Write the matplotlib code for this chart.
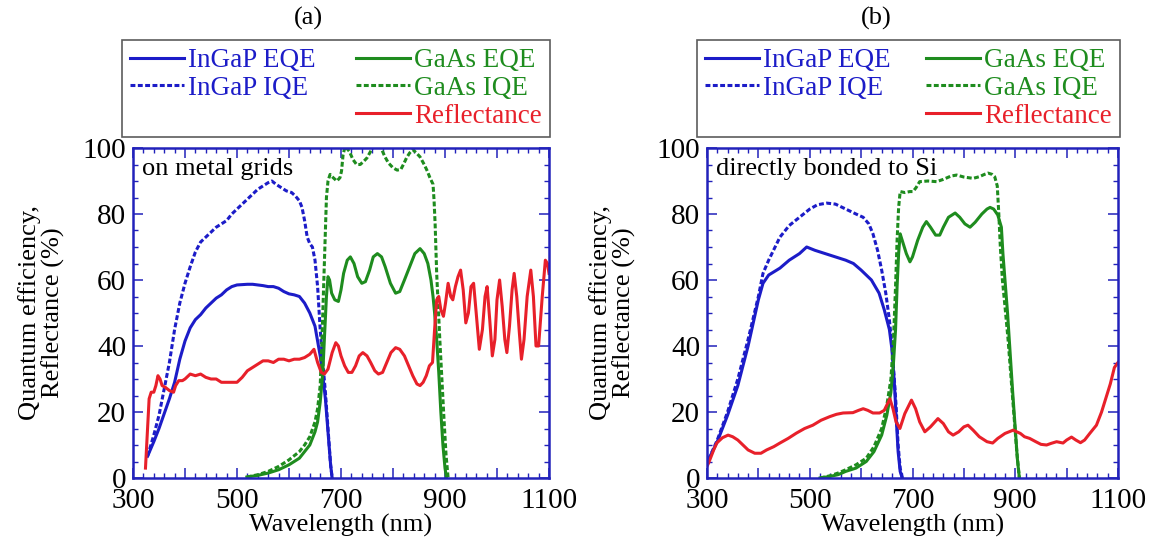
import matplotlib
matplotlib.use("Agg")
import matplotlib.pyplot as plt
from matplotlib.lines import Line2D
from matplotlib.ticker import MultipleLocator, FuncFormatter

plt.rcParams['font.family'] = ['Liberation Serif', 'DejaVu Serif']

# ---------------- (a) on metal grids ----------------
ingap_eqe_a_wl = [328, 340, 350, 360, 370, 380, 390, 400, 410, 420, 430, 440, 450, 460, 470,
                  480, 490, 500, 510, 520, 530, 540, 550, 560, 570, 580, 590, 600, 610, 620,
                  630, 640, 650, 660, 665, 670, 675, 680, 683]
ingap_eqe_a = [6.6, 11, 15, 19.5, 24, 29, 36, 41.5, 45.5, 48, 49.5, 51.5, 53, 54.5, 55.5,
               57, 58, 58.5, 58.6, 58.7, 58.7, 58.5, 58.3, 58, 58, 57.5, 56.5, 55.8, 55.5, 55,
               53, 50, 46, 37, 31, 24, 14, 4, 0]

ingap_iqe_a_wl = [328, 340, 350, 360, 370, 380, 390, 400, 410, 420, 425, 430, 440, 450, 460,
                  470, 480, 490, 500, 510, 520, 530, 540, 550, 560, 567, 575, 585, 595, 605,
                  612, 620, 625, 630, 635, 640, 645, 650, 655, 660, 665, 670, 675, 680, 683]
ingap_iqe_a = [6.6, 13, 19, 27, 35, 45, 53, 59, 64, 68.5, 70, 71.5, 73, 74.5, 76,
               77, 78, 80, 81.5, 83, 84.5, 86, 87.5, 88.5, 89.5, 90, 89, 88, 87, 86.5,
               85.5, 84, 82, 78, 73, 71, 70, 66, 58, 45, 35, 26, 15, 4, 0]

gaas_eqe_a_wl = [519, 540, 560, 580, 600, 620, 630, 640, 650, 655, 660, 665, 668, 672, 675,
                 678, 682, 688, 695, 700, 705, 712, 718, 725, 732, 740, 747, 755, 762, 770,
                 778, 785, 795, 805, 813, 822, 832, 842, 852, 860, 867, 873, 877, 880, 884,
                 888, 892, 896, 900, 903]
gaas_eqe_a = [0.3, 0.8, 1.5, 2.5, 4, 6, 8, 10, 14, 17, 23, 32, 42, 55, 61,
              60, 56, 54, 53.5, 57, 62, 66, 67, 65, 61, 59, 59.5, 63, 67, 68,
              67, 64, 59, 56, 56.5, 60, 64, 68, 69.5, 68, 65, 60, 55, 50, 42,
              32, 20, 10, 3, 0]

gaas_iqe_a_wl = [519, 540, 560, 580, 600, 620, 630, 640, 650, 655, 660, 663, 666, 669, 672,
                 675, 679, 685, 692, 698, 701, 704, 708, 716, 723, 730, 737, 744, 750, 757,
                 763, 770, 777, 784, 791, 800, 808, 815, 820, 826, 832, 838, 845, 852, 860,
                 866, 871, 877, 879, 881, 884, 887, 890, 894, 898, 902, 906]
gaas_iqe_a = [0.3, 1, 2, 3.5, 5.5, 8, 10, 12.5, 17, 21, 28, 40, 55, 70, 85,
              90, 92, 91, 90, 91, 93, 98, 100.5, 99, 96.5, 95, 95, 96, 97, 99,
              100.5, 101, 100, 97.5, 95.5, 94, 93.3, 93.5, 95, 97, 98.5, 99.5, 98.5, 97.3, 95,
              93, 91, 89, 84, 77, 62, 52, 42, 30, 18, 7, 0]

refl_a_wl = [324, 328, 331, 335, 340, 344, 348, 352, 356, 362, 370, 378, 382, 388, 395,
             400, 410, 420, 430, 440, 450, 460, 470, 480, 490, 500, 510, 520, 530, 540,
             550, 560, 570, 580, 590, 600, 610, 620, 630, 640, 648, 655, 662, 668, 675,
             683, 690, 695, 700, 707, 714, 721, 728, 735, 742, 750, 757, 765, 772, 780,
             788, 796, 805, 813, 822, 830, 838, 846, 852, 858, 864, 870, 876, 880, 884,
             888, 892, 897, 901, 906, 911, 915, 920, 925, 930, 935, 940, 945, 950, 955,
             960, 966, 972, 977, 981, 986, 991, 996, 1000, 1005, 1010, 1015, 1019, 1024, 1029,
             1033, 1038, 1043, 1047, 1052, 1058, 1065, 1070, 1075, 1080, 1087, 1093, 1097, 1100]
refl_a = [3, 15, 24, 26, 26, 28, 31, 30, 28, 27.5, 26.5, 26, 28, 29.5, 29.5,
          30, 31.5, 31, 31.5, 30.5, 30, 30, 29, 29, 29, 29, 30.5, 32.5, 33.5, 34.5,
          35.5, 35.5, 35, 36, 36, 35.5, 36, 36, 36.5, 37.5, 39, 35, 32, 31.5, 33,
          38, 41, 40, 37, 34, 32, 32, 34, 37, 38, 37, 35, 32.5, 31.5, 32,
          35, 38, 39.5, 39, 37, 34, 31, 28.5, 28, 29, 31, 34, 35, 45, 54,
          55, 51, 49, 53, 59, 55, 54, 58, 61, 63, 57, 47, 50, 58, 59,
          50, 39, 45, 55, 58, 48, 37, 42, 54, 60, 52, 42, 38, 46, 57,
          62, 55, 44, 36, 42, 55, 63, 55, 40, 40, 55, 66, 65, 62]

# ---------------- (b) directly bonded to Si ----------------
ingap_eqe_b_wl = [303, 320, 340, 360, 380, 400, 409, 420, 442, 460, 480, 494, 510, 530, 550,
                  570, 585, 600, 620, 635, 645, 655, 660, 665, 668, 672, 676, 680]
ingap_eqe_b = [5.6, 11, 19, 28, 40, 54, 59, 61.5, 63.6, 66, 68, 70, 69, 68, 67,
               66, 65, 63, 60, 56, 51, 45, 39, 28, 19, 8, 2, 0]

ingap_iqe_b_wl = [303, 320, 340, 360, 380, 400, 409, 420, 442, 460, 480, 500, 515, 533, 550,
                  570, 590, 604, 615, 623, 632, 640, 648, 655, 660, 665, 668, 672, 676, 680]
ingap_iqe_b = [5.6, 11.5, 20, 30, 42, 55, 62, 66, 73, 76.5, 79, 81.5, 82.8, 83.3, 83,
               81.5, 80, 79, 77, 74, 69, 63, 56, 48, 40, 29, 22, 10, 3, 0]

gaas_eqe_b_wl = [520, 540, 555, 570, 590, 610, 625, 640, 650, 658, 663, 667, 670, 673, 676,
                 680, 688, 695, 700, 710, 720, 727, 735, 745, 753, 760, 770, 783, 792, 802,
                 812, 822, 835, 845, 851, 858, 866, 873, 876, 880, 885, 890, 895, 900, 904, 908]
gaas_eqe_b = [0, 0.5, 1, 2, 3, 5, 8, 13, 19, 26, 35, 45, 58, 68, 74,
              72, 68, 65.5, 67, 72, 76, 77.7, 76, 73.6, 73.6, 76, 79, 80.3, 79, 77,
              76, 77.5, 80, 81.5, 82, 81.5, 79.7, 76, 68, 60, 50, 38, 26, 15, 6, 0]

gaas_iqe_b_wl = [520, 540, 555, 570, 590, 610, 625, 640, 650, 658, 663, 667, 670, 673, 676,
                 685, 695, 701, 707, 714, 730, 747, 760, 775, 786, 800, 818, 830, 840, 847,
                 855, 860, 865, 868, 871, 875, 880, 886, 892, 898, 903, 908]
gaas_iqe_b = [0, 0.7, 1.5, 2.5, 4, 6, 9.5, 15, 22, 30, 42, 58, 72, 82, 86.8,
              86.5, 86.8, 86.8, 88, 89.8, 90, 89.8, 90.5, 91.5, 91.8, 91.2, 90.8, 91.3, 92, 92.4,
              92, 91.3, 88.5, 80, 70, 60, 52, 42, 30, 18, 8, 0]

refl_b_wl = [299.5, 303, 308, 313, 319, 330, 341, 350, 360, 370, 380, 393, 405, 416, 430,
             442, 458, 474, 490, 506, 522, 539, 552, 565, 584, 595, 604, 613, 623, 636,
             645, 656, 662, 668, 675.5, 685, 698, 706, 714, 724, 735, 749.5, 760, 770, 779,
             790, 800, 808, 818, 830, 845, 856, 866, 880, 896, 910, 918, 928, 940, 950,
             961, 970, 980.5, 993, 1000, 1009.5, 1018, 1027, 1035, 1045, 1058, 1068, 1076, 1085, 1093,
             1100]
refl_b = [3.4, 4.5, 6.5, 8.5, 10.6, 12.2, 13, 12.5, 11.5, 10, 8.5, 7.5, 7.5, 8.5, 9.5,
          10.6, 12, 13.6, 15, 16, 17.5, 18.6, 19.3, 19.7, 19.8, 20.5, 21, 20.5, 19.7, 19.7,
          20.5, 24, 21, 17, 15, 19.5, 23.6, 21, 17, 14, 15.5, 18, 16.5, 14, 13,
          14, 15.5, 16, 14.5, 12.5, 11, 10.6, 12, 13.5, 14.5, 13.5, 12.5, 12, 11, 10.2,
          10, 10.5, 11, 10.6, 11.5, 12.4, 11.5, 10.7, 11.5, 13.5, 16, 20, 24, 28.5, 33.5,
          35]

BLUE = '#1c1cc8'
GREEN = '#1e8c1e'
RED = '#e8202a'
AXBLUE = '#2222bb'
DASH = (1.6, 0.8)
LW = 2.2

fig = plt.figure(figsize=(11.51, 5.44), dpi=100)


def panel(rect, curves, note, title, title_x, leg_x0, leg_w, ylab_x):
    ax = fig.add_axes(rect)
    for wl, val, col, dashed in curves:
        if dashed:
            ax.plot(wl, val, color=col, lw=LW, dashes=DASH)
        else:
            ax.plot(wl, val, color=col, lw=LW)
    ax.set_xlim(300, 1100)
    ax.set_ylim(0, 100)
    ax.xaxis.set_major_locator(MultipleLocator(100))
    ax.xaxis.set_minor_locator(MultipleLocator(20))
    ax.xaxis.set_major_formatter(FuncFormatter(lambda v, p: f"{int(v)}" if int(v) % 200 == 100 else ""))
    ax.yaxis.set_major_locator(MultipleLocator(20))
    ax.yaxis.set_minor_locator(MultipleLocator(5))
    ax.tick_params(which='both', direction='in', top=True, right=True, color=AXBLUE,
                   labelsize=21, labelcolor='black')
    ax.tick_params(which='major', length=7, width=1.1)
    ax.tick_params(axis='x', which='major', pad=7)
    ax.tick_params(axis='y', which='major', pad=5)
    ax.tick_params(which='minor', length=3.5, width=1)
    for s in ax.spines.values():
        s.set_color(AXBLUE)
        s.set_linewidth(1.8)
    ax.set_xlabel('Wavelength (nm)', fontsize=19, va='center')
    ax.xaxis.set_label_coords(0.5, -0.143)
    ax.set_ylabel('Quantum efficiency,\nReflectance (%)', fontsize=19, linespacing=1.05, va='center')
    ax.yaxis.set_label_coords(ylab_x, 0.5)
    ax.text(0.022, 0.935, note, transform=ax.transAxes, fontsize=19, va='center', ha='left')

    handles = [Line2D([], [], color=BLUE, lw=LW),
               Line2D([], [], color=BLUE, lw=LW, dashes=DASH),
               Line2D([], [], color='none'),
               Line2D([], [], color=GREEN, lw=LW),
               Line2D([], [], color=GREEN, lw=LW, dashes=DASH),
               Line2D([], [], color=RED, lw=LW)]
    labels = ['InGaP EQE', 'InGaP IQE', ' ', 'GaAs EQE', 'GaAs IQE', 'Reflectance']
    colors = [BLUE, BLUE, 'black', GREEN, GREEN, RED]
    leg = ax.legend(handles, labels, ncol=2, loc='upper left', mode='expand',
                    bbox_to_anchor=(leg_x0, 1 - 40 / 544, leg_w, 0), bbox_transform=fig.transFigure,
                    fontsize=19.5, frameon=True, fancybox=False, edgecolor='#333333',
                    handlelength=2.0, handletextpad=0.15, labelspacing=0.1, borderpad=0.3,
                    borderaxespad=0)
    leg.get_frame().set_linewidth(1.2)
    for t, c in zip(leg.get_texts(), colors):
        t.set_color(c)
    fig.text(title_x, 1 - 18 / 544, title, fontsize=19, ha='center', va='center')
    return ax


curves_a = [(ingap_eqe_a_wl, ingap_eqe_a, BLUE, False),
            (ingap_iqe_a_wl, ingap_iqe_a, BLUE, True),
            (gaas_eqe_a_wl, gaas_eqe_a, GREEN, False),
            (gaas_iqe_a_wl, gaas_iqe_a, GREEN, True),
            (refl_a_wl, refl_a, RED, False)]
curves_b = [(ingap_eqe_b_wl, ingap_eqe_b, BLUE, False),
            (ingap_iqe_b_wl, ingap_iqe_b, BLUE, True),
            (gaas_eqe_b_wl, gaas_eqe_b, GREEN, False),
            (gaas_iqe_b_wl, gaas_iqe_b, GREEN, True),
            (refl_b_wl, refl_b, RED, False)]

panel([133 / 1151, 66 / 544, 416 / 1151, 330 / 544], curves_a, 'on metal grids',
      '(a)', 308 / 1151, 122 / 1151, 428 / 1151, -0.22)
panel([707 / 1151, 66 / 544, 411 / 1151, 330 / 544], curves_b, 'directly bonded to Si',
      '(b)', 876 / 1151, 697 / 1151, 423 / 1151, -0.23)

fig.savefig('out.png', dpi=100)
